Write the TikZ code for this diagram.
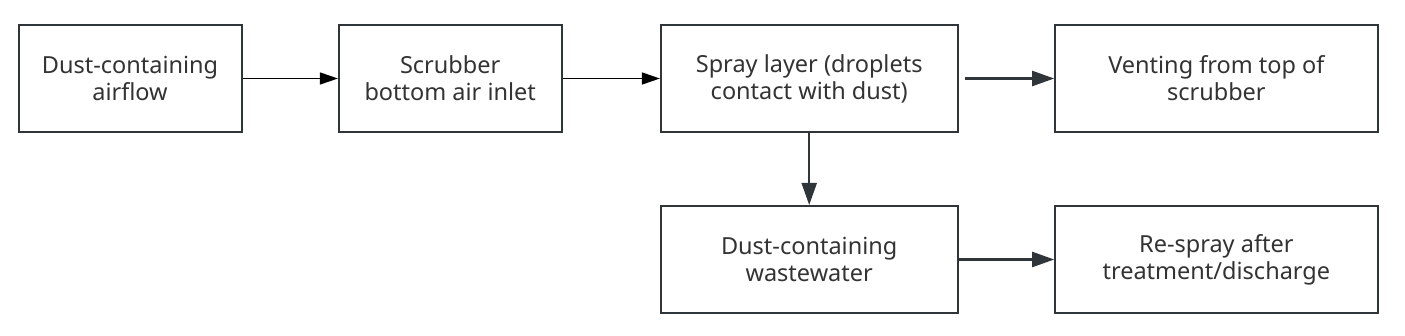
\documentclass[tikz,border=0pt]{standalone}
\usepackage{fontspec}
\setmainfont{Noto Sans}
\usetikzlibrary{arrows.meta, positioning}
\definecolor{edgegray}{HTML}{30353A}
\definecolor{textgray}{HTML}{333333}

\begin{document}
\begin{tikzpicture}[
  x=1pt, y=1pt,
  box/.style={
    rectangle, draw=edgegray, line width=2pt, fill=white,
    minimum height=107pt, inner sep=0pt,
    align=center, text=textgray,
    font=\fontsize{23.5}{27}\selectfont
  },
  thin/.style={-{Triangle[length=18pt, width=12pt]}, line width=1.3pt, black},
  arr/.style={-{Triangle[length=22pt, width=15pt]}, line width=2.2pt, edgegray}
]
  \useasboundingbox (0,0) rectangle (1405,-336);

  \node[box, minimum width=223pt, anchor=north west] (airflow) at (17.5,-24)
    {Dust-containing\\airflow};
  \node[box, minimum width=222.6pt, right=95.4pt of airflow] (inlet)
    {Scrubber\\bottom air inlet};
  \node[box, minimum width=296.6pt, right=97.4pt of inlet] (spray)
    {Spray layer (droplets\\contact with dust)};
  \node[box, minimum width=322.3pt, right=95.7pt of spray] (vent)
    {Venting from top of\\scrubber};
  \node[box, minimum width=296.6pt, below=72pt of spray] (waste)
    {Dust-containing\\wastewater};
  \node[box, minimum width=322.3pt, right=95.7pt of waste] (respray)
    {Re-spray after\\treatment/discharge};

  \draw[thin] (airflow) -- (inlet);
  \draw[thin] (inlet)   -- (spray);
  \draw[arr, shorten <=6pt] (spray) -- (vent);
  \draw[arr]  (spray)   -- (waste);
  \draw[arr]  (waste)   -- (respray);
\end{tikzpicture}
\end{document}
